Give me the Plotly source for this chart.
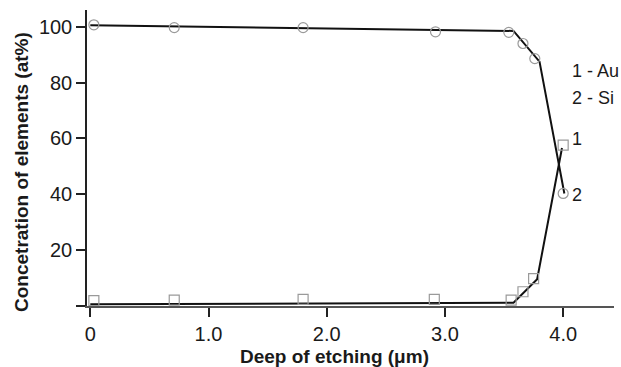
import plotly.graph_objects as go

# Measured points
depth_au = [0.03, 0.71, 1.80, 2.92, 3.54, 3.66, 3.76, 4.00]
conc_au = [100.7, 99.7, 99.7, 98.2, 98.0, 94.0, 88.6, 40.3]
depth_si = [0.03, 0.71, 1.80, 2.91, 3.56, 3.66, 3.75, 4.00]
conc_si = [1.9, 2.1, 2.4, 2.4, 2.1, 5.1, 9.8, 57.6]

# Guide lines
fit_au_x = [0.0, 3.58, 3.80, 4.01]
fit_au_y = [100.5, 98.5, 87.5, 40.3]
fit_si_x = [0.0, 3.58, 3.78, 3.99]
fit_si_y = [0.6, 1.2, 9.6, 56.6]

x_ticks = [0, 1, 2, 3, 4]
x_ticktext = ["0", "1.0", "2.0", "3.0", "4.0"]
y_ticks = [0, 20, 40, 60, 80, 100]
y_ticktext = ["", "20", "40", "60", "80", "100"]

FONT = "Liberation Sans, Arial, sans-serif"

fig = go.Figure()
fig.add_trace(go.Scatter(x=fit_au_x, y=fit_au_y, mode="lines",
                         line=dict(color="#111", width=2), cliponaxis=False, showlegend=False))
fig.add_trace(go.Scatter(x=fit_si_x, y=fit_si_y, mode="lines",
                         line=dict(color="#111", width=2), cliponaxis=False, showlegend=False))
fig.add_trace(go.Scatter(x=depth_au, y=conc_au, mode="markers",
                         marker=dict(symbol="circle-open", size=10, color="#9a9a9a", line=dict(width=1.2)),
                         cliponaxis=False, showlegend=False))
fig.add_trace(go.Scatter(x=depth_si, y=conc_si, mode="markers",
                         marker=dict(symbol="square-open", size=10, color="#9a9a9a", line=dict(width=1.2)),
                         cliponaxis=False, showlegend=False))

fig.update_layout(
    width=621, height=367,
    margin=dict(l=87, r=7, t=10, b=61),
    plot_bgcolor="white", paper_bgcolor="white",
    font=dict(family=FONT, size=20, color="#1a1a1a"),
    xaxis=dict(range=[-0.028, 4.43], tickvals=x_ticks, ticktext=x_ticktext,
               showgrid=False, zeroline=False, showline=True, linecolor="#555", linewidth=1.5,
               ticks="outside", ticklen=9, tickcolor="#222", tickwidth=1.5,
               tickfont=dict(size=20, family=FONT)),
    yaxis=dict(range=[0, 106], tickvals=y_ticks, ticktext=y_ticktext,
               showgrid=False, zeroline=False, showline=True, linecolor="#222", linewidth=1.5,
               ticks="outside", ticklen=9, tickcolor="#222", tickwidth=1.5,
               tickfont=dict(size=20, family=FONT)),
    annotations=[
        dict(text="<b>Deep of etching (μm)</b>", xref="paper", yref="paper",
             x=(334 - 87) / 527, y=-(356 - 306) / 296, xanchor="center", yanchor="middle",
             showarrow=False, font=dict(size=19, family=FONT)),
        dict(text="<b>Concetration of elements (at%)</b>", xref="paper", yref="paper",
             x=-(87 - 21) / 527, y=(306 - 172) / 296, xanchor="center", yanchor="middle",
             textangle=-90, showarrow=False, font=dict(size=19, family=FONT)),
        dict(text="1 - Au", xref="paper", yref="paper", x=(570 - 87) / 527, y=(306 - 71) / 296,
             xanchor="left", yanchor="middle", showarrow=False, font=dict(size=18, family=FONT)),
        dict(text="2 - Si", xref="paper", yref="paper", x=(570 - 87) / 527, y=(306 - 98) / 296,
             xanchor="left", yanchor="middle", showarrow=False, font=dict(size=18, family=FONT)),
        dict(text="1", xref="paper", yref="paper", x=(570 - 87) / 527, y=(306 - 139) / 296,
             xanchor="left", yanchor="middle", showarrow=False, font=dict(size=18, family=FONT)),
        dict(text="2", xref="paper", yref="paper", x=(570 - 87) / 527, y=(306 - 195) / 296,
             xanchor="left", yanchor="middle", showarrow=False, font=dict(size=18, family=FONT)),
    ],
)

fig.write_html("out.html", config={"displayModeBar": False},
               post_script="document.body.style.margin='0';document.body.style.overflow='hidden';")
